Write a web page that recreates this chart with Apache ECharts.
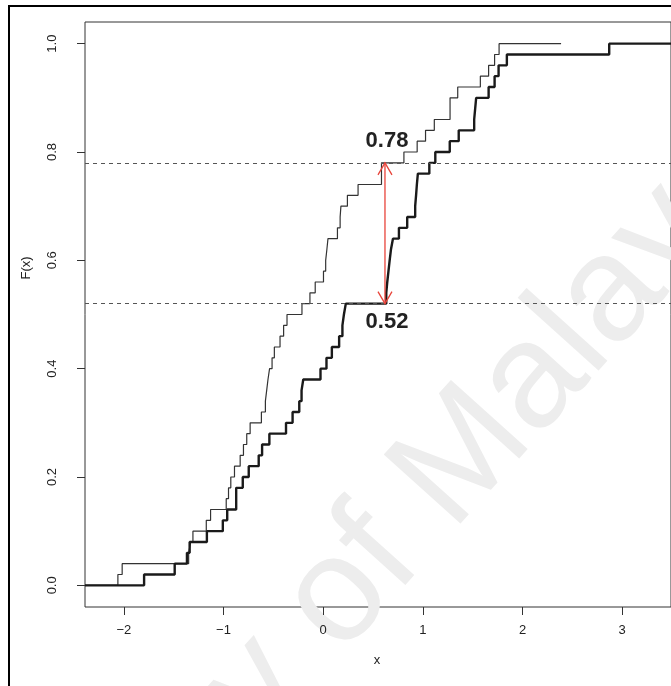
<!DOCTYPE html>
<html>
<head>
<meta charset="utf-8">
<script src="https://cdn.jsdelivr.net/npm/echarts@6/dist/echarts.min.js"></script>
<style>
  html, body { margin: 0; padding: 0; background: #fff; }
  #chart { width: 671px; height: 686px; }
</style>
</head>
<body>
<div id="chart"></div>
<script>
// jump locations and levels of the two empirical CDFs
const thinX = [-2.06, -2.017, -1.35, -1.33, -1.307, -1.173, -1.13, -0.973, -0.95, -0.927,
  -0.89, -0.833, -0.80, -0.767, -0.733, -0.62, -0.58, -0.567, -0.554, -0.538,
  -0.513, -0.49, -0.433, -0.397, -0.363, -0.213, -0.133, -0.08, 0.003, 0.025,
  0.037, 0.048, 0.143, 0.17, 0.178, 0.243, 0.35, 0.585, 0.81, 0.943,
  1.027, 1.115, 1.273, 1.35, 1.577, 1.66, 1.72, 1.765]
const thinF = [0.02, 0.04, 0.06, 0.08, 0.10, 0.12, 0.14, 0.16, 0.18, 0.20,
  0.22, 0.24, 0.26, 0.28, 0.30, 0.32, 0.34, 0.36, 0.38, 0.40,
  0.42, 0.44, 0.46, 0.48, 0.50, 0.52, 0.54, 0.56, 0.58, 0.60,
  0.62, 0.64, 0.66, 0.68, 0.70, 0.72, 0.74, 0.78, 0.80, 0.82,
  0.84, 0.86, 0.90, 0.92, 0.94, 0.96, 0.98, 1.00]
const thinEnd = 2.387

const thickX = [-1.797, -1.49, -1.367, -1.34, -1.167, -1.007, -0.963, -0.873, -0.807, -0.747,
  -0.647, -0.613, -0.54, -0.373, -0.307, -0.24, -0.217, -0.20, -0.027, 0.033,
  0.087, 0.16, 0.193, 0.208, 0.227, 0.633, 0.643, 0.655, 0.667, 0.68,
  0.70, 0.76, 0.843, 0.923, 0.932, 0.94, 0.95, 1.065, 1.125, 1.27,
  1.36, 1.515, 1.525, 1.535, 1.66, 1.72, 1.76, 1.843, 2.87]
const thickF = [0.02, 0.04, 0.06, 0.08, 0.10, 0.12, 0.14, 0.18, 0.20, 0.22,
  0.24, 0.26, 0.28, 0.30, 0.32, 0.34, 0.36, 0.38, 0.40, 0.42,
  0.44, 0.46, 0.48, 0.50, 0.52, 0.54, 0.56, 0.58, 0.60, 0.62,
  0.64, 0.66, 0.68, 0.70, 0.72, 0.74, 0.76, 0.78, 0.80, 0.82,
  0.84, 0.86, 0.88, 0.90, 0.92, 0.94, 0.96, 0.98, 1.00]

const xTicks = [-2, -1, 0, 1, 2, 3]
const yTicks = [0, 0.2, 0.4, 0.6, 0.8, 1.0]
const hLines = [0.78, 0.52]
// the red arrow: x, lower value, upper value
const arrow = [0.62, 0.52, 0.78]

const xMin = -2.39
const xMax = 3.49

const font = 'Liberation Sans, Arial, sans-serif'

const stepData = (xs, fs, end) => {
  const out = [[xMin, 0]]
  xs.forEach((x, i) => out.push([x, fs[i]]))
  out.push([end, 1])
  return out
}

const myChart = echarts.init(document.getElementById('chart'))

const option = {
  animation: false,
  backgroundColor: '#fff',
  grid: {
    left: 85,
    right: -2,
    top: 22,
    bottom: 79,
    show: true,
    borderColor: '#333',
    borderWidth: 1,
    backgroundColor: 'transparent'
  },
  xAxis: {
    type: 'value',
    min: xMin,
    max: xMax,
    axisLine: { show: false, onZero: false },
    splitLine: { show: false },
    axisTick: {
      show: true,
      customValues: xTicks,
      length: 8,
      lineStyle: { color: '#333' }
    },
    axisLabel: {
      customValues: xTicks,
      margin: 17,
      color: '#222',
      fontFamily: font,
      fontSize: 13,
      formatter: (v) => (v < 0 ? '\u2212' + Math.abs(v) : String(v))
    }
  },
  yAxis: {
    type: 'value',
    min: -0.04,
    max: 1.04,
    axisLine: { show: false, onZero: false },
    splitLine: { show: false },
    axisTick: {
      show: true,
      customValues: yTicks,
      length: 8,
      lineStyle: { color: '#333' }
    },
    axisLabel: {
      customValues: yTicks,
      rotate: 90,
      margin: 26,
      color: '#222',
      fontFamily: font,
      fontSize: 13,
      formatter: (v) => v.toFixed(1)
    }
  },
  graphic: [
    {
      type: 'group',
      x: 338,
      y: 598,
      rotation: (48 * Math.PI) / 180,
      z: -10,
      silent: true,
      children: [
        {
          type: 'text',
          x: -742,
          y: 0,
          style: {
            text: 'University of Malaya',
            font: '150px Liberation Sans, Arial, sans-serif',
            fill: '#ededed',
            textVerticalAlign: 'middle'
          }
        }
      ]
    },
    {
      type: 'rect',
      shape: { x: 9, y: 6, width: 700, height: 700 },
      style: { fill: 'none', stroke: '#000', lineWidth: 2 },
      silent: true
    },
    {
      type: 'text',
      x: 26,
      y: 268,
      rotation: Math.PI / 2,
      style: {
        text: 'F(x)',
        font: '13px Liberation Sans, Arial, sans-serif',
        fill: '#222',
        textAlign: 'center',
        textVerticalAlign: 'middle'
      }
    },
    {
      type: 'text',
      x: 377,
      y: 660,
      style: {
        text: 'x',
        font: '13px Liberation Sans, Arial, sans-serif',
        fill: '#222',
        textAlign: 'center',
        textVerticalAlign: 'middle'
      }
    }
  ],
  series: [
    {
      name: 'thin',
      type: 'line',
      step: 'end',
      symbol: 'none',
      data: stepData(thinX, thinF, thinEnd),
      lineStyle: { color: '#333', width: 1.2 },
      markLine: {
        silent: true,
        symbol: 'none',
        label: { show: false },
        lineStyle: { color: '#555', width: 1, type: [4, 4] },
        data: hLines.map((v) => ({ yAxis: v }))
      },
      z: 3
    },
    {
      name: 'thick',
      type: 'line',
      step: 'end',
      symbol: 'none',
      data: stepData(thickX, thickF, xMax),
      lineStyle: { color: '#1a1a1a', width: 2.4 },
      z: 4
    },
    {
      name: 'arrow',
      type: 'custom',
      data: [arrow],
      z: 5,
      renderItem: (params, api) => {
        const lo = api.coord([api.value(0), api.value(1)])
        const hi = api.coord([api.value(0), api.value(2)])
        const red = '#e8443a'
        const hw = 7
        const hh = 12
        return {
          type: 'group',
          children: [
            {
              type: 'line',
              shape: { x1: lo[0], y1: lo[1], x2: hi[0], y2: hi[1] },
              style: { stroke: red, lineWidth: 1.3 }
            },
            {
              type: 'polyline',
              shape: { points: [[hi[0] - hw, hi[1] + hh], [hi[0], hi[1]], [hi[0] + hw, hi[1] + hh]] },
              style: { stroke: red, lineWidth: 1.3, fill: 'none' }
            },
            {
              type: 'polyline',
              shape: { points: [[lo[0] - hw, lo[1] - hh], [lo[0], lo[1]], [lo[0] + hw, lo[1] - hh]] },
              style: { stroke: red, lineWidth: 1.3, fill: 'none' }
            },
            {
              type: 'text',
              x: hi[0] + 2,
              y: hi[1] - 22,
              style: {
                text: api.value(2).toFixed(2),
                font: 'bold 22px Liberation Sans, Arial, sans-serif',
                fill: '#222',
                textAlign: 'center',
                textVerticalAlign: 'middle'
              }
            },
            {
              type: 'text',
              x: lo[0] + 2,
              y: lo[1] + 18,
              style: {
                text: api.value(1).toFixed(2),
                font: 'bold 22px Liberation Sans, Arial, sans-serif',
                fill: '#222',
                textAlign: 'center',
                textVerticalAlign: 'middle'
              }
            }
          ]
        }
      }
    }
  ]
}

myChart.setOption(option)
</script>
</body>
</html>
